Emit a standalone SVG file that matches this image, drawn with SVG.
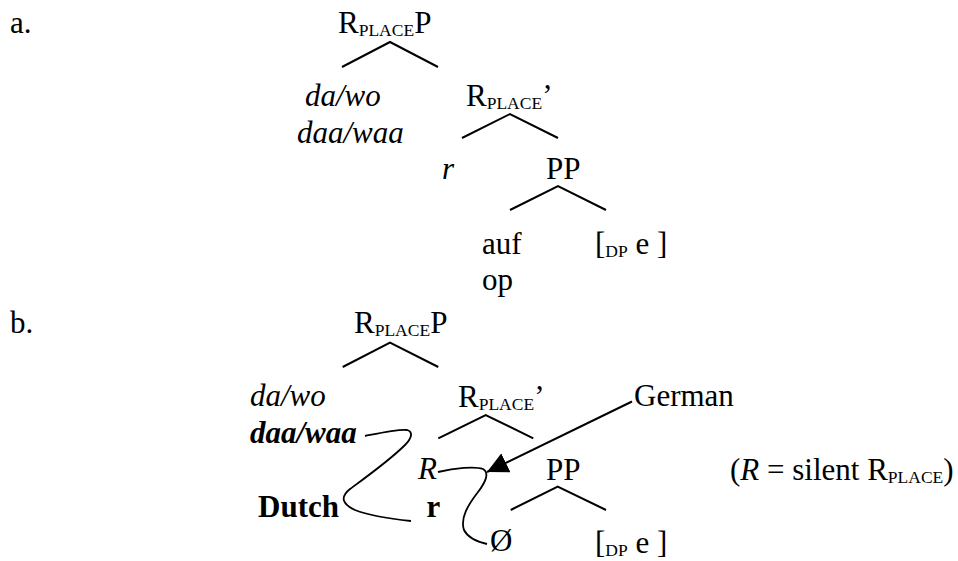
<svg xmlns="http://www.w3.org/2000/svg" width="958" height="561" viewBox="0 0 958 561">
<style>
text{font-family:"Liberation Serif","Times New Roman",serif;font-size:31px;fill:#000}
.it{font-style:italic}
.bd{font-weight:bold}
.sub{font-size:17.5px}
.br{fill:none;stroke:#000;stroke-width:2}
.cv{fill:none;stroke:#000;stroke-width:1.8}
</style>
<defs>
<marker id="ah" markerUnits="userSpaceOnUse" viewBox="0 0 21 21" markerWidth="21" markerHeight="21" refX="21" refY="10.5" orient="auto">
<path d="M0,0 L21,10.5 L0,21 z" fill="#000"/>
</marker>
</defs>
<g id="label-a"><text x="10" y="33">a.</text></g>
<g id="a-rplacep"><text x="338" y="33">R<tspan class="sub" dy="2.5">PLACE</tspan><tspan dy="-2.5">P</tspan></text></g>
<g id="a-dawo"><text class="it" x="305" y="106">da/wo</text><text class="it" x="297" y="143">daa/waa</text></g>
<g id="a-rplacebar"><text x="466" y="106">R<tspan class="sub" dy="2.5">PLACE</tspan><tspan dy="-2.5">’</tspan></text></g>
<g id="a-r"><text class="it" x="442" y="179">r</text></g>
<g id="a-pp"><text x="546" y="179">PP</text></g>
<g id="a-auf"><text x="482" y="254">auf</text><text x="482" y="290">op</text></g>
<g id="a-dp"><text x="595" y="254">[<tspan class="sub" dy="2.5">DP</tspan><tspan dy="-2.5"> e ]</tspan></text></g>

<g id="label-b"><text x="10" y="333">b.</text></g>
<g id="b-rplacep"><text x="354" y="333">R<tspan class="sub" dy="2.5">PLACE</tspan><tspan dy="-2.5">P</tspan></text></g>
<g id="b-dawo"><text class="it" x="250" y="406">da/wo</text><text class="it bd" x="250" y="443">daa/waa</text></g>
<g id="b-rplacebar"><text x="458" y="407">R<tspan class="sub" dy="2.5">PLACE</tspan><tspan dy="-2.5">’</tspan></text></g>
<g id="b-german"><text x="634" y="406">German</text></g>
<g id="b-R"><text class="it" x="418" y="479">R</text></g>
<g id="b-pp"><text x="546" y="480">PP</text></g>
<g id="b-dutch"><text class="bd" x="258" y="517">Dutch</text></g>
<g id="b-r"><text class="bd" x="426.5" y="517">r</text></g>
<g id="b-empty"><text x="490" y="551">Ø</text></g>
<g id="b-dp"><text x="595" y="553">[<tspan class="sub" dy="2.5">DP</tspan><tspan dy="-2.5"> e ]</tspan></text></g>
<g id="b-note"><text x="730" y="480">(<tspan class="it">R</tspan> = silent R<tspan class="sub" dy="2.5">PLACE</tspan><tspan dy="-2.5">)</tspan></text></g>

<g id="connectors">
<polyline class="br" points="342,67 390,42 438,67"/>
<polyline class="br" points="462,138 510,114 558,138"/>
<polyline class="br" points="510,210 558,186 606,210"/>
<polyline class="br" points="342.7,367 390,342.7 438.3,367"/>
<polyline class="br" points="438.3,438.3 485.7,415 533.3,438.3"/>
<polyline class="br" points="510.7,510 557.7,486.7 606,510"/>
<path class="cv" d="M365,436 C380,433 398,429 407,430 C414,432 411,439 405,445 C390,460 365,478 350,489 C340,497 342,504 355,510 C370,516 392,519 411,521"/>
<path class="cv" d="M438,472 C455,468 475,466 483,469 C490,473 485,483 478,492 C468,505 460,518 464,530 C468,538 478,542 487,544"/>
<line class="br" x1="632" y1="401.5" x2="487" y2="472" marker-end="url(#ah)"/>
</g>
</svg>
